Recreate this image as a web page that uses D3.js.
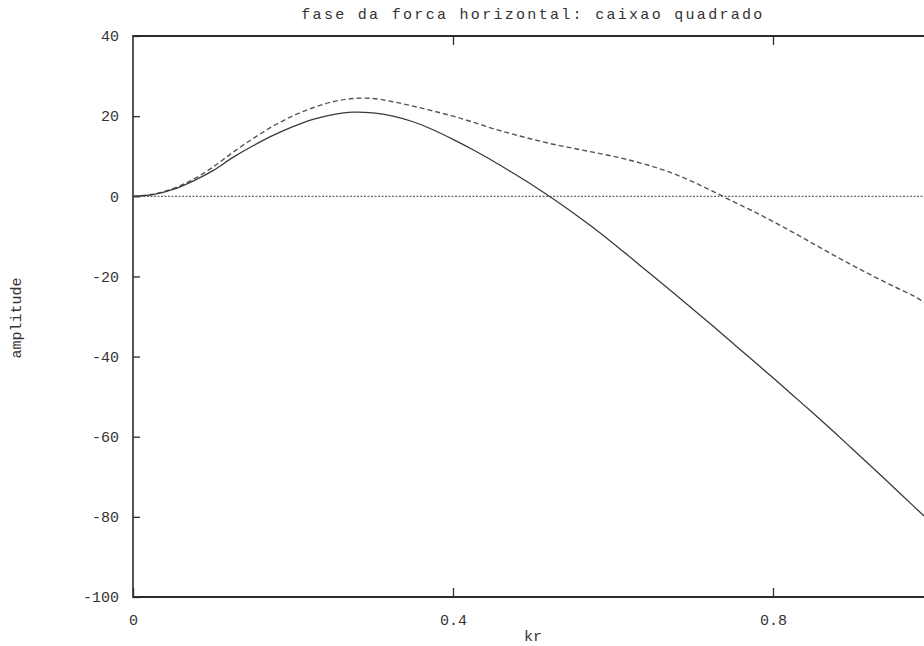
<!DOCTYPE html>
<html>
<head>
<meta charset="utf-8">
<script src="https://cdn.jsdelivr.net/npm/d3@7"></script>
<style>
  html, body { margin: 0; padding: 0; background: #fff; }
  svg { display: block; }
  text { font-family: "Liberation Mono", "DejaVu Sans Mono", monospace; fill: #333; }
</style>
</head>
<body>
<svg id="chart" width="924" height="646"></svg>
<script>
// kr sample points
const kr = [0, 0.025, 0.05, 0.075, 0.1, 0.125, 0.15, 0.175, 0.2, 0.225, 0.25, 0.275, 0.3,
  0.325, 0.35, 0.375, 0.4, 0.425, 0.45, 0.475, 0.5, 0.525, 0.55, 0.575, 0.6, 0.625, 0.65,
  0.675, 0.7, 0.725, 0.75, 0.775, 0.8, 0.825, 0.85, 0.875, 0.9, 0.925, 0.95, 0.975, 0.99];

// solid curve
const solidSeries = [0, 0.4, 1.7, 3.8, 6.4, 9.7, 12.6, 15.2, 17.4, 19.2, 20.4, 21, 20.8,
  20.0, 18.6, 16.6, 14.2, 11.6, 8.8, 5.8, 2.7, -0.6, -4.1, -7.8, -11.7, -15.8, -19.9, -24.0,
  -28.2, -32.4, -36.7, -41.0, -45.3, -49.7, -54.1, -58.6, -63.2, -67.8, -72.5, -77.2, -80];

// dashed curve
const dashedSeries = [0, 0.5, 1.9, 4.2, 7.3, 11, 14.4, 17.5, 20.1, 22.1, 23.6, 24.4, 24.4,
  23.6, 22.5, 21.3, 20, 18.5, 16.9, 15.5, 14.2, 13, 12, 11, 10, 8.8, 7.4,
  5.7, 3.6, 1.2, -1.3, -3.7, -6.3, -9.0, -11.8, -14.6, -17.3, -19.9, -22.4, -24.8, -26.6];

const xTicks = [0, 0.4, 0.8];
const yTicks = [40, 20, 0, -20, -40, -60, -80, -100];

const titleText = "fase da forca horizontal: caixao quadrado";
const xLabel = "kr";
const yLabel = "amplitude";

const svg = d3.select("#chart");
const frame = { left: 133, right: 933, top: 36, bottom: 597 };

const x = d3.scaleLinear().domain([0, 1]).range([frame.left, frame.right]);
const y = d3.scaleLinear().domain([-100, 40]).range([frame.bottom, frame.top]);

// frame
const ink = "#2b2b2b";
svg.append("line").attr("x1", frame.left).attr("x2", frame.right).attr("y1", frame.top).attr("y2", frame.top)
  .attr("stroke", ink).attr("stroke-width", 2.2);
svg.append("line").attr("x1", frame.left).attr("x2", frame.right).attr("y1", frame.bottom).attr("y2", frame.bottom)
  .attr("stroke", ink).attr("stroke-width", 2.2);
svg.append("line").attr("x1", frame.left).attr("x2", frame.left).attr("y1", frame.top - 1).attr("y2", frame.bottom + 1)
  .attr("stroke", ink).attr("stroke-width", 1.6);
svg.append("line").attr("x1", frame.right).attr("x2", frame.right).attr("y1", frame.top).attr("y2", frame.bottom)
  .attr("stroke", ink).attr("stroke-width", 1.6);

// axes with inward ticks
const fmtX = d => d === 0 ? "0" : d3.format(".1f")(d);
const fmtY = d => String(d);   // plain hyphen for negatives
const axisStyle = g => {
  g.select(".domain").remove();
  g.selectAll(".tick line").attr("stroke", ink).attr("stroke-width", 1.3);
  g.selectAll(".tick text").style("font-size", "15px").attr("fill", "#333");
};

svg.append("g").attr("transform", `translate(0,${frame.bottom})`)
  .call(d3.axisBottom(x).tickValues(xTicks).tickFormat(fmtX).tickSizeInner(-9).tickSizeOuter(0).tickPadding(17))
  .call(axisStyle);
svg.append("g").attr("transform", `translate(0,${frame.top})`)
  .call(d3.axisTop(x).tickValues(xTicks.filter(d => d > 0)).tickFormat("").tickSizeInner(-9).tickSizeOuter(0))
  .call(axisStyle);
svg.append("g").attr("transform", `translate(${frame.left},0)`)
  .call(d3.axisLeft(y).tickValues(yTicks).tickFormat(fmtY).tickSizeInner(-7).tickSizeOuter(0).tickPadding(14))
  .call(axisStyle);
svg.append("g").attr("transform", `translate(${frame.right},0)`)
  .call(d3.axisRight(y).tickValues(yTicks.filter(d => d < 40 && d > -100)).tickFormat("").tickSizeInner(-9).tickSizeOuter(0))
  .call(axisStyle);

// zero reference line
svg.append("line")
  .attr("x1", x(0)).attr("x2", frame.right).attr("y1", y(0)).attr("y2", y(0))
  .attr("stroke", "#666").attr("stroke-width", 1.3).attr("stroke-dasharray", "2,1.5");

const line = series => d3.line()
  .x((d, i) => x(kr[i]))
  .y(d => y(d))
  .curve(d3.curveCatmullRom.alpha(0.5))(series);

svg.append("path").attr("d", line(dashedSeries))
  .attr("fill", "none").attr("stroke", "#555").attr("stroke-width", 1.4)
  .attr("stroke-dasharray", "5,3");
svg.append("path").attr("d", line(solidSeries))
  .attr("fill", "none").attr("stroke", "#3a3a3a").attr("stroke-width", 1.3);

// titles
svg.append("text").attr("x", (frame.left + frame.right) / 2).attr("y", 19)
  .attr("text-anchor", "middle").style("font-size", "15px").style("letter-spacing", "2.3px")
  .text(titleText);
svg.append("text").attr("x", (frame.left + frame.right) / 2).attr("y", 641)
  .attr("text-anchor", "middle").style("font-size", "15px").text(xLabel);
svg.append("text").attr("transform", "translate(21,318) rotate(-90)")
  .attr("text-anchor", "middle").style("font-size", "15px").text(yLabel);
</script>
</body>
</html>
